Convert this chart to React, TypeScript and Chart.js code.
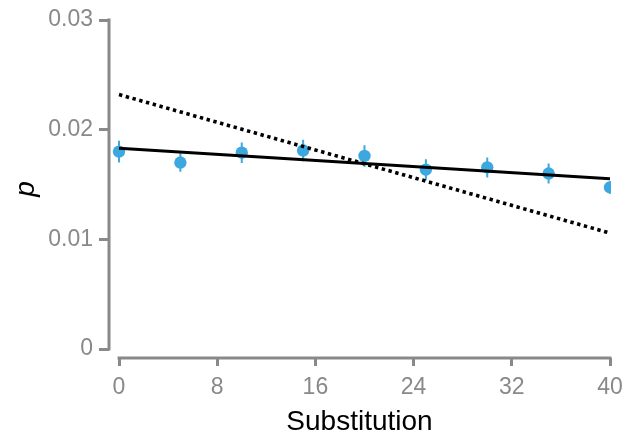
import React, { useEffect, useRef } from 'react';
import { Chart, registerables } from 'chart.js';
Chart.register(...registerables);

const substitution = [0, 5, 10, 15, 20, 25, 30, 35, 40];
const pMean = [0.0180, 0.0170, 0.0179, 0.0181, 0.0176, 0.01635, 0.01656, 0.0160, 0.01473];
const pErr = [0.00099, 0.00084, 0.00094, 0.00099, 0.00097, 0.00096, 0.00091, 0.00091, 0.00057];
const fitX = [0, 40];
const solidFitY = [0.01831, 0.01553];
const dottedFitY = [0.0232, 0.01057];
const xTicks = [0, 8, 16, 24, 32, 40];
const yTicks = [0, 0.01, 0.02, 0.03];

const GREY = '#898989';
const BLUE = '#3DA8DF';
const FONT = "'Liberation Sans', Arial, sans-serif";

const axisPlugin = {
  id: 'offsetAxes',
  beforeDatasetsDraw(chart: any) {
    const { ctx, chartArea, scales } = chart;
    const xs = scales.x;
    const ys = scales.y;
    ctx.save();
    ctx.strokeStyle = GREY;
    ctx.lineWidth = 3;
    ctx.lineCap = 'square';
    ctx.beginPath();
    ctx.moveTo(xs.getPixelForValue(xTicks[0]), chartArea.bottom);
    ctx.lineTo(xs.getPixelForValue(xTicks[xTicks.length - 1]), chartArea.bottom);
    ctx.moveTo(chartArea.left, ys.getPixelForValue(yTicks[0]));
    ctx.lineTo(chartArea.left, ys.getPixelForValue(yTicks[yTicks.length - 1]));
    ctx.stroke();
    // error bars
    ctx.strokeStyle = BLUE;
    ctx.lineWidth = 2;
    ctx.lineCap = 'butt';
    ctx.beginPath();
    substitution.forEach((s, i) => {
      const px = xs.getPixelForValue(s);
      ctx.moveTo(px, ys.getPixelForValue(pMean[i] - pErr[i]));
      ctx.lineTo(px, ys.getPixelForValue(pMean[i] + pErr[i]));
    });
    ctx.stroke();
    ctx.restore();
  },
};

export default function App() {
  const ref = useRef<HTMLCanvasElement>(null);
  useEffect(() => {
    if (!ref.current) return;
    const chart = new Chart(ref.current, {
      data: {
        datasets: [
          {
            type: 'line',
            data: fitX.map((x, i) => ({ x, y: solidFitY[i] })),
            borderColor: '#000',
            borderWidth: 3,
            pointRadius: 0,
            order: 0,
          },
          {
            type: 'line',
            data: fitX.map((x, i) => ({ x, y: dottedFitY[i] })),
            borderColor: '#000',
            borderWidth: 3.6,
            borderDash: [3.4, 3.6],
            pointRadius: 0,
            order: 0,
          },
          {
            type: 'scatter',
            data: substitution.map((x, i) => ({ x, y: pMean[i] })),
            backgroundColor: BLUE,
            borderWidth: 0,
            pointRadius: 6.2,
            order: 1,
          },
        ],
      } as any,
      options: {
        responsive: false,
        animation: false,
        layout: { padding: { top: 20, right: 15, left: 0, bottom: 0 } },
        plugins: { legend: { display: false }, tooltip: { enabled: false } },
        scales: {
          x: {
            type: 'linear',
            min: -0.815,
            max: 40,
            afterBuildTicks: (s: any) => { s.ticks = xTicks.map((v) => ({ value: v })); },
            afterFit: (s: any) => { s.height = 78; s.paddingLeft = 0; s.paddingRight = 0; },
            border: { display: false },
            grid: { drawOnChartArea: false, drawTicks: true, tickLength: 8, color: GREY, lineWidth: 3 },
            ticks: { color: GREY, font: { family: FONT, size: 23 }, padding: 8, maxRotation: 0 },
            title: {
              display: true,
              text: 'Substitution',
              color: '#000',
              font: { family: FONT, size: 28, lineHeight: 0.95 },
              padding: { top: 0, bottom: 0 },
            },
          },
          y: {
            type: 'linear',
            min: -0.00082,
            max: 0.03,
            afterBuildTicks: (s: any) => { s.ticks = yTicks.map((v) => ({ value: v })); },
            afterFit: (s: any) => { s.width = 109; s.paddingTop = 0; s.paddingBottom = 0; },
            border: { display: false },
            grid: { drawOnChartArea: false, drawTicks: true, tickLength: 10, color: GREY, lineWidth: 3 },
            ticks: {
              color: GREY,
              font: { family: FONT, size: 23 },
              padding: 6,
              callback: (v: any) => (v === 0 ? '0' : Number(v).toFixed(2)),
            },
            title: {
              display: true,
              text: 'p',
              color: '#000',
              font: { family: FONT, size: 28, style: 'italic' },
              padding: { top: 9, bottom: 0 },
            },
          },
        },
      } as any,
      plugins: [axisPlugin],
    });
    return () => chart.destroy();
  }, []);
  return (
    <div style={{ position: 'fixed', left: 0, top: 0, width: 625, height: 436, background: '#fff' }}>
      <canvas ref={ref} width={625} height={436} style={{ width: 625, height: 436, display: 'block' }} />
    </div>
  );
}
